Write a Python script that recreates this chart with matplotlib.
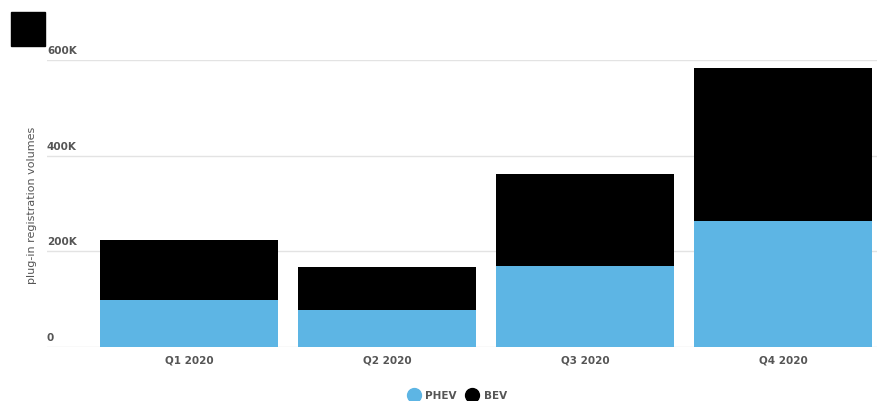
import matplotlib.pyplot as plt
from matplotlib.patches import Rectangle
from matplotlib.lines import Line2D

quarters = ['Q1 2020', 'Q2 2020', 'Q3 2020', 'Q4 2020']
phev = [98000, 77000, 169000, 263000]
bev = [126000, 90000, 193000, 320000]
y_ticks = [0, 200000, 400000, 600000]

PHEV_COLOR = '#5db5e4'
BEV_COLOR = '#000000'
TEXT_COLOR = '#555555'

W, H = 878, 401
fig = plt.figure(figsize=(W / 100, H / 100), dpi=100)
ax = fig.add_axes([47 / W, (H - 347) / H, (W - 47) / W, (347 - 60) / H])

x = list(range(len(quarters)))
ax.bar(x, phev, width=0.9, color=PHEV_COLOR, zorder=2)
ax.bar(x, bev, width=0.9, bottom=phev, color=BEV_COLOR, zorder=2)

ax.set_xlim(-0.717, 3.48)
ax.set_ylim(0, 600000)
ax.set_yticks(y_ticks)
ax.yaxis.grid(True, color='#e3e3e3', linewidth=1, zorder=0)
ax.set_axisbelow(True)
for s in ax.spines.values():
    s.set_visible(False)
ax.tick_params(axis='both', length=0)

# y labels sit above the grid line, left aligned
ax.set_yticklabels([])
for v in y_ticks:
    lbl = '0' if v == 0 else f'{v // 1000}K'
    ax.annotate(lbl, xy=(0, v), xycoords=('axes fraction', 'data'),
                xytext=(0, 3), textcoords='offset points',
                ha='left', va='bottom', fontsize=7.5, color=TEXT_COLOR,
                fontweight='bold')

ax.set_xticks(x)
ax.set_xticklabels(quarters, fontsize=7.5, color=TEXT_COLOR, fontweight='bold')
ax.tick_params(axis='x', pad=6)

fig.text(32 / W, 1 - 205 / H, 'plug-in registration volumes', rotation=90,
         ha='center', va='center', fontsize=8, color=TEXT_COLOR)

# black box top-left
fig.patches.append(Rectangle((11 / W, 1 - 46 / H), 34 / W, 34 / H,
                             transform=fig.transFigure, color='black'))

handles = [Line2D([], [], marker='o', linestyle='', markersize=10,
                  color=PHEV_COLOR, label='PHEV'),
           Line2D([], [], marker='o', linestyle='', markersize=10,
                  color=BEV_COLOR, label='BEV')]
leg = fig.legend(handles=handles, loc='center', bbox_to_anchor=(457 / W, 1 - 396 / H),
                 ncol=2, frameon=False, fontsize=7.5, handletextpad=0.5,
                 columnspacing=0.9, handlelength=1.2)
for t in leg.get_texts():
    t.set_color(TEXT_COLOR)
    t.set_fontweight('bold')

fig.savefig('out.png', dpi=100)
